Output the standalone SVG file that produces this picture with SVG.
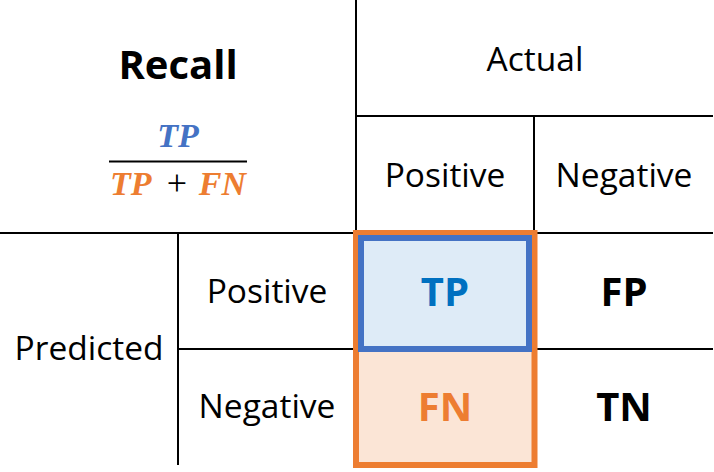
<svg xmlns="http://www.w3.org/2000/svg" width="714" height="472" viewBox="0 0 714 472">
<style>
.grid{stroke:#000;stroke-width:2;fill:none}
.t{font-family:"Open Sans","Noto Sans",sans-serif;font-size:33.5px;fill:#000;text-anchor:middle}
.b{font-family:"Open Sans","Noto Sans",sans-serif;font-size:40px;font-weight:bold;text-anchor:middle}
.m{font-family:"Liberation Serif","DejaVu Serif",serif;font-size:34px;font-weight:bold;font-style:italic}
</style>
<rect width="714" height="472" fill="#fff"/>
<g id="connectors">
<line class="grid" x1="356" y1="0" x2="356" y2="233"/>
<line class="grid" x1="356" y1="116" x2="713" y2="116"/>
<line class="grid" x1="534" y1="116" x2="534" y2="233"/>
<line class="grid" x1="0" y1="233" x2="713" y2="233"/>
<line class="grid" x1="178" y1="233" x2="178" y2="465"/>
<line class="grid" x1="178" y1="349" x2="713" y2="349"/>
<line class="grid" x1="534" y1="349" x2="534" y2="465"/>
</g>
<g id="title">
<text class="b" x="178" y="79" fill="#000">Recall</text>
</g>
<g id="formula">
<text class="m" x="178" y="147" fill="#4472C4" text-anchor="middle">TP</text>
<line x1="109" y1="161.5" x2="247" y2="161.5" stroke="#000" stroke-width="2"/>
<text class="m" x="110" y="195" fill="#ED7D31">TP</text>
<text x="177" y="195" font-family="Liberation Serif,serif" font-size="36" text-anchor="middle" fill="#000">+</text>
<text class="m" x="246" y="195" fill="#ED7D31" text-anchor="end">FN</text>
</g>
<g id="actual"><text class="t" x="535" y="71">Actual</text></g>
<g id="actual-positive"><text class="t" x="445" y="187">Positive</text></g>
<g id="actual-negative"><text class="t" x="624" y="187">Negative</text></g>
<g id="predicted"><text class="t" x="89" y="360">Predicted</text></g>
<g id="pred-positive"><text class="t" x="267" y="303">Positive</text></g>
<g id="pred-negative"><text class="t" x="267" y="418">Negative</text></g>
<g id="fn">
<rect x="356" y="233" width="178.5" height="232" fill="#FBE5D6" stroke="#ED7D31" stroke-width="6"/>
<text class="b" x="445" y="421" fill="#ED7D31">FN</text>
</g>
<g id="tp">
<rect x="361" y="238" width="168" height="111" fill="#DEEBF7" stroke="#4472C4" stroke-width="6"/>
<text class="b" x="445" y="306" fill="#0070C0">TP</text>
</g>
<g id="fp"><text class="b" x="624" y="306" fill="#000">FP</text></g>
<g id="tn"><text class="b" x="624" y="421" fill="#000">TN</text></g>
</svg>
